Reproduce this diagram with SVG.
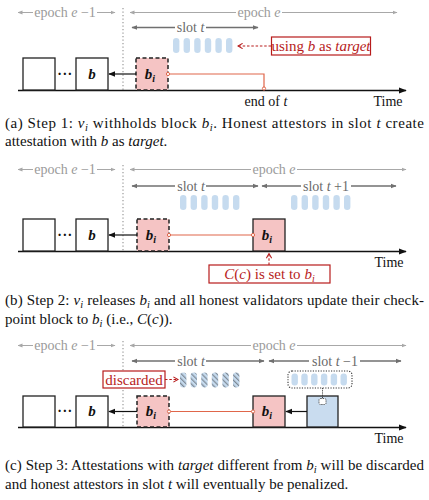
<svg xmlns="http://www.w3.org/2000/svg" width="429" height="500" viewBox="0 0 429 500">
<style>
text{font-family:"Liberation Serif","Times New Roman",serif}
.ep{fill:#9a9a9a;font-size:14px}
.sl{fill:#6a6a6a;font-size:14px}
.epl{stroke:#a8a8a8;stroke-width:1;fill:none}
.sll{stroke:#707070;stroke-width:1.3;fill:none}
.gnd{stroke:#111;stroke-width:1.3;fill:none}
.blk{fill:#fff;stroke:#222;stroke-width:1.3}
.bi{fill:#f5c4c4;stroke:#222;stroke-width:1.3}
.bid{fill:#f5c4c4;stroke:#222;stroke-width:1.5;stroke-dasharray:4 2.5}
.bl{fill:#c9dcef;stroke:#222;stroke-width:1.3}
.lbl{font-size:15px;font-style:italic;font-weight:bold;fill:#111}
.pill{fill:#c6dbef}
.hat{fill:url(#hatch)}
.red{stroke:#e0664a;stroke-width:1.2;fill:none}
.dot{fill:#fff;stroke:#e0664a;stroke-width:1}
.rbox{fill:#fff;stroke:#b71c1c;stroke-width:1.2}
.rtxt{fill:#b71c1c;font-size:15px}
.rarr{stroke:#b71c1c;stroke-width:1.1;stroke-dasharray:2.5 1.8;fill:none}
.vd{stroke:#999;stroke-width:1.2;stroke-dasharray:1.3 2.2}
.cap{font-size:15px;fill:#111}
.tm{font-size:14px;fill:#111}
.blarr{stroke:#111;stroke-width:1.2;fill:none}
</style>
<defs>
<marker id="ga" viewBox="0 0 10 10" refX="9" refY="5" markerWidth="5" markerHeight="5" orient="auto-start-reverse">
<path d="M0,1 L10,5 L0,9 z" fill="#a8a8a8"/>
</marker>
<marker id="sa" viewBox="0 0 10 10" refX="9" refY="5" markerWidth="4.5" markerHeight="4.5" orient="auto-start-reverse">
<path d="M0,1 L10,5 L0,9 z" fill="#707070"/>
</marker>
<marker id="ka" viewBox="0 0 10 10" refX="9" refY="5" markerWidth="6" markerHeight="6" orient="auto">
<path d="M0,1 L10,5 L0,9 z" fill="#111"/>
</marker>
<marker id="ra" viewBox="0 0 10 10" refX="8" refY="5" markerWidth="6" markerHeight="6" orient="auto">
<path d="M1,1 L8,5 L1,9" fill="none" stroke="#b71c1c" stroke-width="1.6"/>
</marker>
<pattern id="hatch" width="3.6" height="3.6" patternUnits="userSpaceOnUse" patternTransform="rotate(-45)">
<rect width="3.6" height="3.6" fill="#c6dbef"/>
<rect width="1.2" height="3.6" fill="#7f8a96"/>
</pattern>
</defs>

<!-- ============ Panel (a) ============ -->
<g id="panel-a">
<g id="a-timeline">
<line class="epl" x1="18" y1="12.5" x2="33" y2="12.5" marker-start="url(#ga)"/>
<line class="epl" x1="97" y1="12.5" x2="115" y2="12.5" marker-end="url(#ga)"/>
<text class="ep" x="65" y="17" text-anchor="middle">epoch <tspan font-style="italic">e</tspan> −1</text>
<line class="epl" x1="130" y1="12.5" x2="236" y2="12.5" marker-start="url(#ga)"/>
<line class="epl" x1="282" y1="12.5" x2="397" y2="12.5" marker-end="url(#ga)"/>
<text class="ep" x="259" y="17" text-anchor="middle">epoch <tspan font-style="italic">e</tspan></text>
<line class="sll" x1="132" y1="27.5" x2="175" y2="27.5" marker-start="url(#sa)"/>
<line class="sll" x1="206" y1="27.5" x2="258" y2="27.5" marker-end="url(#sa)"/>
<text class="sl" x="190.5" y="32" text-anchor="middle">slot <tspan font-style="italic">t</tspan></text>
<line class="vd" x1="123" y1="8" x2="123" y2="91"/>
<line class="gnd" x1="18" y1="90.5" x2="406" y2="90.5" marker-end="url(#ka)"/>
<text class="tm" x="388" y="106" text-anchor="middle">Time</text>
<text class="tm" x="266" y="106" text-anchor="middle">end of <tspan font-style="italic">t</tspan></text>
</g>
<g id="a-pills">
<rect class="pill" x="173" y="38" width="6.4" height="15" rx="3.2"/>
<rect class="pill" x="183.6" y="38" width="6.4" height="15" rx="3.2"/>
<rect class="pill" x="194.2" y="38" width="6.4" height="15" rx="3.2"/>
<rect class="pill" x="204.8" y="38" width="6.4" height="15" rx="3.2"/>
<rect class="pill" x="215.4" y="38" width="6.4" height="15" rx="3.2"/>
<rect class="pill" x="226" y="38" width="6.4" height="15" rx="3.2"/>
</g>
<g id="a-blk0"><rect class="blk" x="23" y="58" width="32" height="32"/></g>
<text x="65" y="79" font-size="14" font-weight="bold" fill="#111" text-anchor="middle" letter-spacing="0.5">···</text>
<g id="a-blk-b"><rect class="blk" x="76" y="58" width="32" height="32"/><text class="lbl" x="92" y="79" text-anchor="middle">b</text></g>
<g id="a-blk-bi"><rect class="bid" x="136" y="58" width="32" height="32"/><text class="lbl" x="150" y="79" text-anchor="middle">b<tspan font-size="10" dy="3">i</tspan></text></g>
<g id="a-using"><rect class="rbox" x="271.5" y="37" width="99" height="18"/><text class="rtxt" x="321" y="51" text-anchor="middle">using <tspan font-style="italic">b</tspan> as <tspan font-style="italic">target</tspan></text></g>
<g id="a-connectors">
<line class="blarr" x1="136" y1="74" x2="109" y2="74" marker-end="url(#ka)"/>
<polyline class="red" points="168,74 264,74 264,88.5"/>
<circle class="dot" cx="168" cy="74" r="1.6"/>
<circle class="dot" cx="264" cy="88.5" r="1.6"/>
<line class="rarr" x1="271" y1="46" x2="238" y2="46" marker-end="url(#ra)"/>
</g>
</g>
<text class="cap" x="5" y="128" textLength="419" lengthAdjust="spacing">(a) Step 1: <tspan font-style="italic">v</tspan><tspan font-style="italic" font-size="10.5" dy="3">i</tspan><tspan dy="-3"> withholds block </tspan><tspan font-style="italic">b</tspan><tspan font-style="italic" font-size="10.5" dy="3">i</tspan><tspan dy="-3">. Honest attestors in slot </tspan><tspan font-style="italic">t</tspan> create</text>
<text class="cap" x="5" y="146">attestation with <tspan font-style="italic">b</tspan> as <tspan font-style="italic">target</tspan>.</text>

<!-- ============ Panel (b) ============ -->
<g id="panel-b">
<g id="b-timeline">
<line class="epl" x1="18" y1="169.5" x2="33" y2="169.5" marker-start="url(#ga)"/>
<line class="epl" x1="97" y1="169.5" x2="115" y2="169.5" marker-end="url(#ga)"/>
<text class="ep" x="65" y="174" text-anchor="middle">epoch <tspan font-style="italic">e</tspan> −1</text>
<line class="epl" x1="130" y1="169.5" x2="251" y2="169.5" marker-start="url(#ga)"/>
<line class="epl" x1="297" y1="169.5" x2="406" y2="169.5" marker-end="url(#ga)"/>
<text class="ep" x="274" y="174" text-anchor="middle">epoch <tspan font-style="italic">e</tspan></text>
<line class="sll" x1="132" y1="186" x2="175" y2="186" marker-start="url(#sa)"/>
<line class="sll" x1="206" y1="186" x2="258" y2="186" marker-end="url(#sa)"/>
<text class="sl" x="191" y="190.5" text-anchor="middle">slot <tspan font-style="italic">t</tspan></text>
<line class="sll" x1="262" y1="186" x2="301" y2="186" marker-start="url(#sa)"/>
<line class="sll" x1="351" y1="186" x2="396" y2="186" marker-end="url(#sa)"/>
<text class="sl" x="326" y="190.5" text-anchor="middle">slot <tspan font-style="italic">t</tspan> +1</text>
<line class="vd" x1="123" y1="165" x2="123" y2="252"/>
<line class="gnd" x1="18" y1="251.5" x2="406" y2="251.5" marker-end="url(#ka)"/>
<text class="tm" x="389" y="267" text-anchor="middle">Time</text>
</g>
<g id="b-pills">
<rect class="pill" x="180" y="195" width="6.4" height="15" rx="3.2"/>
<rect class="pill" x="190.6" y="195" width="6.4" height="15" rx="3.2"/>
<rect class="pill" x="201.2" y="195" width="6.4" height="15" rx="3.2"/>
<rect class="pill" x="211.8" y="195" width="6.4" height="15" rx="3.2"/>
<rect class="pill" x="222.4" y="195" width="6.4" height="15" rx="3.2"/>
<rect class="pill" x="233" y="195" width="6.4" height="15" rx="3.2"/>
<rect class="pill" x="291" y="195" width="6.4" height="15" rx="3.2"/>
<rect class="pill" x="301.6" y="195" width="6.4" height="15" rx="3.2"/>
<rect class="pill" x="312.2" y="195" width="6.4" height="15" rx="3.2"/>
<rect class="pill" x="322.8" y="195" width="6.4" height="15" rx="3.2"/>
<rect class="pill" x="333.4" y="195" width="6.4" height="15" rx="3.2"/>
<rect class="pill" x="344" y="195" width="6.4" height="15" rx="3.2"/>
</g>
<g id="b-blk0"><rect class="blk" x="23" y="219" width="32" height="32"/></g>
<text x="65" y="240" font-size="14" font-weight="bold" fill="#111" text-anchor="middle" letter-spacing="0.5">···</text>
<g id="b-blk-b"><rect class="blk" x="76" y="219" width="32" height="32"/><text class="lbl" x="92" y="240" text-anchor="middle">b</text></g>
<g id="b-blk-bi"><rect class="bid" x="137" y="219" width="32" height="32"/><text class="lbl" x="151" y="240" text-anchor="middle">b<tspan font-size="10" dy="3">i</tspan></text></g>
<g id="b-blk-bi2"><rect class="bi" x="253" y="219" width="32" height="32"/><text class="lbl" x="267" y="240" text-anchor="middle">b<tspan font-size="10" dy="3">i</tspan></text></g>
<g id="b-cc"><rect class="rbox" x="209" y="265" width="121" height="18"/><text class="rtxt" x="269.5" y="279" text-anchor="middle"><tspan font-style="italic">C</tspan>(<tspan font-style="italic">c</tspan>) is set to <tspan font-style="italic">b</tspan><tspan font-style="italic" font-size="10" dy="3">i</tspan></text></g>
<g id="b-connectors">
<line class="blarr" x1="137" y1="235" x2="109" y2="235" marker-end="url(#ka)"/>
<line class="red" x1="169" y1="235" x2="253" y2="235"/>
<circle class="dot" cx="169" cy="235" r="1.6"/>
<circle class="dot" cx="253" cy="235" r="1.6"/>
<line class="rarr" x1="269" y1="265" x2="269" y2="253.5" marker-end="url(#ra)"/>
</g>
</g>
<text class="cap" x="5" y="305" textLength="419" lengthAdjust="spacing">(b) Step 2: <tspan font-style="italic">v</tspan><tspan font-style="italic" font-size="10.5" dy="3">i</tspan><tspan dy="-3"> releases </tspan><tspan font-style="italic">b</tspan><tspan font-style="italic" font-size="10.5" dy="3">i</tspan><tspan dy="-3"> and all honest validators update their check-</tspan></text>
<text class="cap" x="5" y="324">point block to <tspan font-style="italic">b</tspan><tspan font-style="italic" font-size="10.5" dy="3">i</tspan><tspan dy="-3"> (i.e., </tspan><tspan font-style="italic">C</tspan>(<tspan font-style="italic">c</tspan>)).</text>

<!-- ============ Panel (c) ============ -->
<g id="panel-c">
<g id="c-timeline">
<line class="epl" x1="18" y1="345.5" x2="33" y2="345.5" marker-start="url(#ga)"/>
<line class="epl" x1="97" y1="345.5" x2="115" y2="345.5" marker-end="url(#ga)"/>
<text class="ep" x="65" y="350" text-anchor="middle">epoch <tspan font-style="italic">e</tspan> −1</text>
<line class="epl" x1="130" y1="345.5" x2="251" y2="345.5" marker-start="url(#ga)"/>
<line class="epl" x1="297" y1="345.5" x2="406" y2="345.5" marker-end="url(#ga)"/>
<text class="ep" x="274" y="350" text-anchor="middle">epoch <tspan font-style="italic">e</tspan></text>
<line class="sll" x1="132" y1="361" x2="175" y2="361" marker-start="url(#sa)"/>
<line class="sll" x1="206" y1="361" x2="264" y2="361" marker-end="url(#sa)"/>
<text class="sl" x="191" y="365.5" text-anchor="middle">slot <tspan font-style="italic">t</tspan></text>
<line class="sll" x1="269" y1="361" x2="309" y2="361" marker-start="url(#sa)"/>
<line class="sll" x1="360" y1="361" x2="401" y2="361" marker-end="url(#sa)"/>
<text class="sl" x="335" y="365.5" text-anchor="middle">slot <tspan font-style="italic">t</tspan> −1</text>
<line class="vd" x1="123" y1="341" x2="123" y2="428"/>
<line class="gnd" x1="18" y1="427.5" x2="406" y2="427.5" marker-end="url(#ka)"/>
<text class="tm" x="389" y="443" text-anchor="middle">Time</text>
</g>
<g id="c-hatched">
<rect class="hat" x="180" y="372.5" width="6.4" height="15" rx="3.2"/>
<rect class="hat" x="190.6" y="372.5" width="6.4" height="15" rx="3.2"/>
<rect class="hat" x="201.2" y="372.5" width="6.4" height="15" rx="3.2"/>
<rect class="hat" x="211.8" y="372.5" width="6.4" height="15" rx="3.2"/>
<rect class="hat" x="222.4" y="372.5" width="6.4" height="15" rx="3.2"/>
<rect class="hat" x="233" y="372.5" width="6.4" height="15" rx="3.2"/>
</g>
<g id="c-discarded"><rect class="rbox" x="103" y="371" width="62" height="17"/><text class="rtxt" x="134" y="384.5" text-anchor="middle">discarded</text></g>
<g id="c-pool">
<rect x="288" y="371" width="64" height="17" rx="4" fill="#fff" stroke="#333" stroke-width="1.1" stroke-dasharray="1.2 1.4"/>
<rect class="pill" x="291.5" y="373.5" width="6.4" height="12" rx="3"/>
<rect class="pill" x="301.3" y="373.5" width="6.4" height="12" rx="3"/>
<rect class="pill" x="311.1" y="373.5" width="6.4" height="12" rx="3"/>
<rect class="pill" x="320.9" y="373.5" width="6.4" height="12" rx="3"/>
<rect class="pill" x="330.7" y="373.5" width="6.4" height="12" rx="3"/>
<rect class="pill" x="340.5" y="373.5" width="6.4" height="12" rx="3"/>
</g>
<g id="c-blk0"><rect class="blk" x="23" y="396" width="32" height="31"/></g>
<text x="65" y="416" font-size="14" font-weight="bold" fill="#111" text-anchor="middle" letter-spacing="0.5">···</text>
<g id="c-blk-b"><rect class="blk" x="76" y="396" width="32" height="31"/><text class="lbl" x="92" y="416" text-anchor="middle">b</text></g>
<g id="c-blk-bi"><rect class="bid" x="137" y="396" width="32" height="31"/><text class="lbl" x="151" y="416" text-anchor="middle">b<tspan font-size="10" dy="3">i</tspan></text></g>
<g id="c-blk-bi2"><rect class="bi" x="253" y="396" width="32" height="31"/><text class="lbl" x="267" y="416" text-anchor="middle">b<tspan font-size="10" dy="3">i</tspan></text></g>
<g id="c-blk-new"><rect class="bl" x="307" y="396" width="31" height="31"/><rect x="319" y="398.5" width="7" height="6" rx="1.5" fill="#fff" stroke="#333" stroke-width="0.9" stroke-dasharray="1.2 1"/></g>
<g id="c-connectors">
<line class="blarr" x1="137" y1="411.5" x2="109" y2="411.5" marker-end="url(#ka)"/>
<line class="red" x1="169" y1="411.5" x2="253" y2="411.5"/>
<circle class="dot" cx="169" cy="411.5" r="1.6"/>
<circle class="dot" cx="253" cy="411.5" r="1.6"/>
<line class="blarr" x1="307" y1="411.5" x2="286" y2="411.5" marker-end="url(#ka)"/>
<line class="rarr" x1="165" y1="379.5" x2="178" y2="379.5" marker-end="url(#ra)"/>
<line x1="322.5" y1="388" x2="322.5" y2="398.5" stroke="#333" stroke-width="0.9" stroke-dasharray="1.2 1"/>
</g>
</g>
<text class="cap" x="5" y="470" textLength="419" lengthAdjust="spacing">(c) Step 3: Attestations with <tspan font-style="italic">target</tspan> different from <tspan font-style="italic">b</tspan><tspan font-style="italic" font-size="10.5" dy="3">i</tspan><tspan dy="-3"> will be discarded</tspan></text>
<text class="cap" x="5" y="489">and honest attestors in slot <tspan font-style="italic">t</tspan> will eventually be penalized.</text>
</svg>
